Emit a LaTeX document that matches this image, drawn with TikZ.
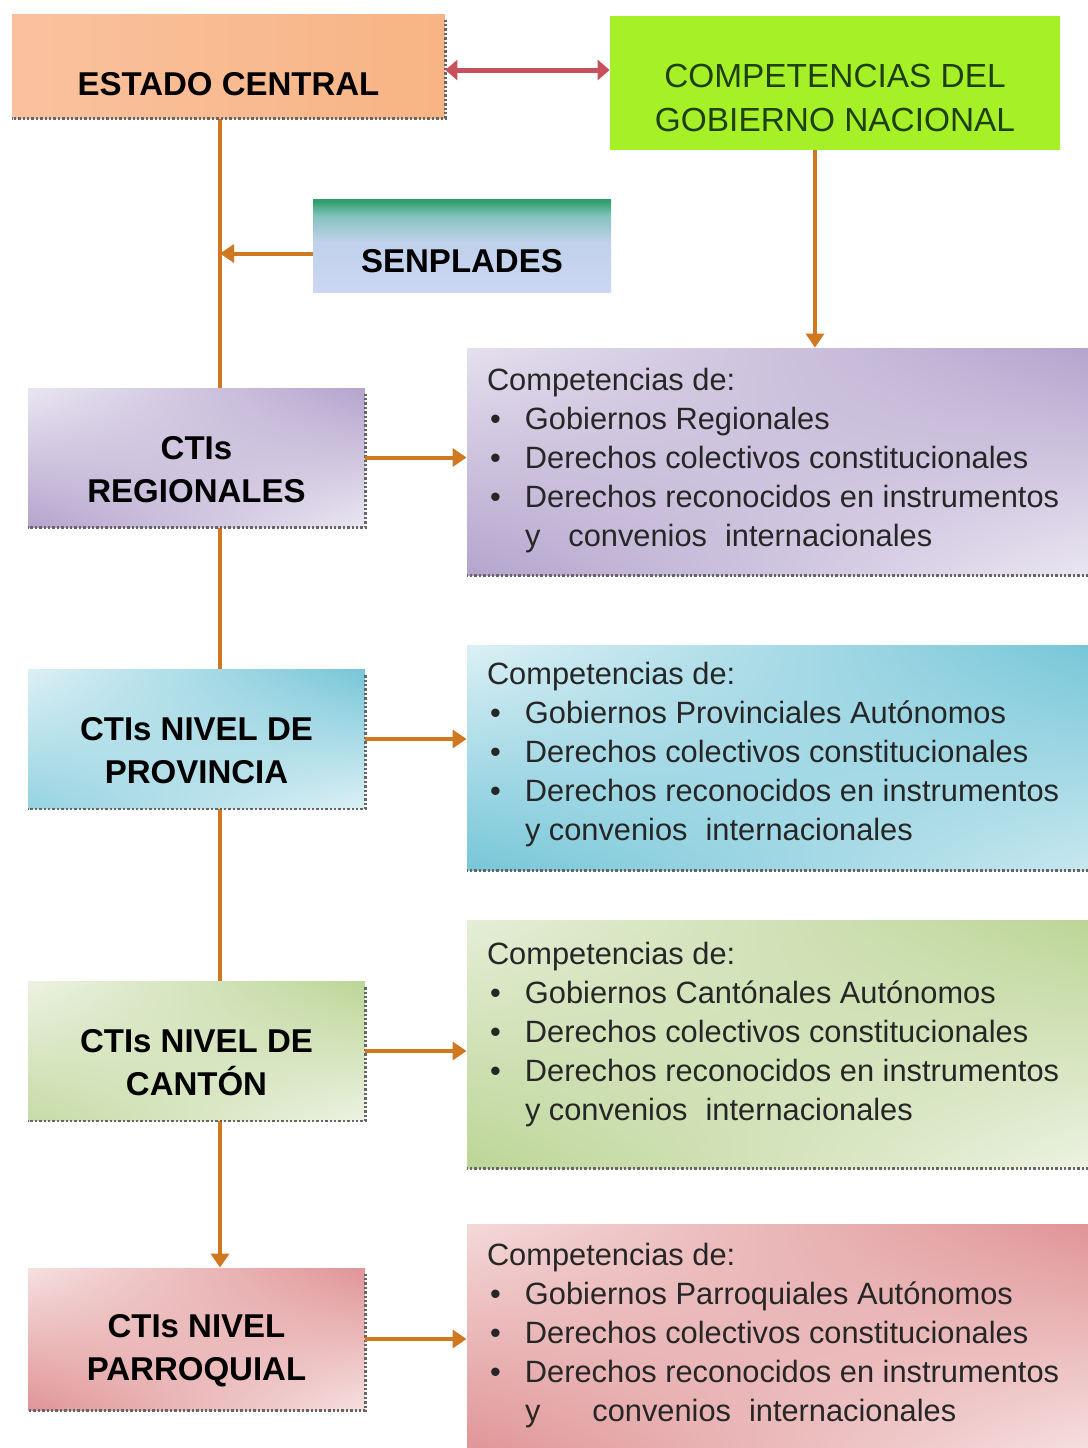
\documentclass[tikz,border=0pt]{standalone}
\usepackage{fontspec}
\setmainfont{Liberation Sans}
\usetikzlibrary{arrows.meta,shadings,backgrounds}

\pgfdeclareverticalshading{senpl}{100bp}{rgb(0bp)=(0.80,0.84,0.95); rgb(25bp)=(0.80,0.84,0.95); rgb(52bp)=(0.75,0.82,0.92); rgb(66bp)=(0.52,0.76,0.74); rgb(74bp)=(0.18,0.62,0.42); rgb(100bp)=(0.18,0.62,0.42)}

\newcommand{\bul}[1]{\\\hspace*{1.5pt}\makebox[17.5pt][l]{\textbullet}#1}

\begin{document}
\begin{tikzpicture}[x=0.5pt, y=-0.5pt,
  lbox/.style={minimum width=168.5pt, minimum height=69.5pt, inner sep=0pt, align=center, text height=45pt, font=\fontsize{16.5}{21.5}\selectfont\bfseries},
  rbox/.style={minimum width=310.5pt, inner sep=0pt},
  corners/.style n args={4}{upper left=#1, upper right=#2, lower left=#3, lower right=#4},
  listtext/.style={anchor=north west, inner sep=0pt, align=left, text=black!85, font=\fontsize{15.4}{19.5}\selectfont},
  flow/.style={-{Triangle[length=7pt,width=9pt]}, line width=2pt, draw=flowc},
  link/.style={{Triangle[length=6pt,width=10pt]}-{Triangle[length=6pt,width=10pt]}, line width=2.5pt, draw=linkc},
  shadowline/.style={densely dotted, line width=1.2pt, draw=black!60}]
  % Colors
  \definecolor{flowc}{RGB}{208,120,32}
  \definecolor{linkc}{RGB}{200,80,92}
  \definecolor{estA}{RGB}{249,194,158}
  \definecolor{estL}{RGB}{253,233,220}
  \definecolor{estB}{RGB}{248,180,132}
  \definecolor{compc}{RGB}{166,240,40}
  \definecolor{compt}{RGB}{30,64,16}
  \definecolor{purL}{RGB}{234,230,241}
  \definecolor{purD}{RGB}{180,164,205}
  \definecolor{cyaL}{RGB}{220,240,245}
  \definecolor{cyaD}{RGB}{118,198,216}
  \definecolor{greL}{RGB}{236,242,226}
  \definecolor{greD}{RGB}{188,213,150}
  \definecolor{pinL}{RGB}{246,224,224}
  \definecolor{pinD}{RGB}{224,148,150}

  \useasboundingbox (0,0) rectangle (1088,1448);

  % Top row
  \node[lbox, minimum width=216.5pt, minimum height=52pt, text height=30pt, left color=estA, middle color=estL, right color=estB] (estado) at (228.5,66) {ESTADO CENTRAL};
  \node[fill=compc, minimum width=225pt, minimum height=67pt, inner sep=0pt, align=center, text height=49pt, text=compt, font=\fontsize{16.7}{22}\selectfont] (comp) at (835,83) {COMPETENCIAS DEL\\GOBIERNO NACIONAL};
  \node[lbox, minimum width=149pt, minimum height=46.5pt, text height=27pt, shading=senpl] (senp) at (462,245.5) {SENPLADES};

  % Left column
  \node[lbox, corners={purL}{purD}{purD}{purL}] (reg) at (196.5,457.5) {CTIs\\REGIONALES};
  \node[lbox, corners={cyaL}{cyaD}{cyaD!70!cyaL}{cyaL}] (prov) at (196.5,739) {CTIs NIVEL DE\\PROVINCIA};
  \node[lbox, corners={greL}{greD}{greD!80!greL}{greL}] (cant) at (196.5,1051) {CTIs NIVEL DE\\CANTÓN};
  \node[lbox, minimum height=71pt, corners={pinL}{pinD}{pinD}{pinL}] (parr) at (196.5,1339) {CTIs NIVEL\\PARROQUIAL};

  % Right column
  \node[rbox, minimum height=113.5pt, corners={purL!90!purD}{purD}{purD}{purL}] (regR) at (777.5,461.5) {};
  \node[rbox, minimum height=112.5pt, corners={cyaL}{cyaD}{cyaD}{cyaL!80!cyaD}] (provR) at (777.5,757.5) {};
  \node[rbox, minimum height=124pt, corners={greL!85!greD}{greD}{greD}{greL}] (cantR) at (777.5,1044) {};
  \node[rbox, minimum height=114pt, corners={pinL!90!pinD}{pinD}{pinD}{pinL}] (parrR) at (777.5,1338) {};

  \node[listtext] (regT) at ([xshift=10pt,yshift=-10pt]regR.north west) {Competencias de:\bul{Gobiernos Regionales}\bul{Derechos colectivos constitucionales}\bul{Derechos reconocidos en instrumentos}\\\hspace*{19pt}y\hspace{14pt}convenios\hspace{9pt}internacionales};
  \node[listtext] (provT) at ([xshift=10pt,yshift=-8.5pt]provR.north west) {Competencias de:\bul{Gobiernos Provinciales Autónomos}\bul{Derechos colectivos constitucionales}\bul{Derechos reconocidos en instrumentos}\\\hspace*{19pt}y convenios\hspace{9pt}internacionales};
  \node[listtext] (cantT) at ([xshift=10pt,yshift=-11pt]cantR.north west) {Competencias de:\bul{Gobiernos Cantónales Autónomos}\bul{Derechos colectivos constitucionales}\bul{Derechos reconocidos en instrumentos}\\\hspace*{19pt}y convenios\hspace{9pt}internacionales};
  \node[listtext] (parrT) at ([xshift=10pt,yshift=-9.5pt]parrR.north west) {Competencias de:\bul{Gobiernos Parroquiales Autónomos}\bul{Derechos colectivos constitucionales}\bul{Derechos reconocidos en instrumentos}\\\hspace*{19pt}y\hspace{26pt}convenios\hspace{9pt}internacionales};

  % Shadows
  \foreach \n in {estado,reg,prov,cant,parr} {
    \draw[shadowline] ([yshift=-3pt]\n.north east) -- (\n.south east) -- (\n.south west);
  }
  \foreach \n in {regR,provR,cantR,parrR} {
    \draw[shadowline] (\n.south east) -- (\n.south west);
  }

  % Connectors
  \coordinate (trunk) at (220,0);
  \begin{scope}[on background layer]
    \draw[flow] (estado.south -| trunk) -- (parr.north -| trunk);
  \end{scope}
  \draw[link] ([yshift=-2pt]estado.east) -- ([yshift=-2pt]estado.east -| comp.west);
  \draw[flow] ([yshift=-4pt]senp.west) -- ([yshift=-4pt]senp.west -| trunk);
  \draw[flow] ([xshift=-10pt]comp.south) -- ([xshift=-10pt]comp.south |- regR.north);
  \draw[flow] (reg.east) -- (reg.east -| regR.west);
  \draw[flow] (prov.east) -- (prov.east -| provR.west);
  \draw[flow] (cant.east) -- (cant.east -| cantR.west);
  \draw[flow] (parr.east) -- (parr.east -| parrR.west);
\end{tikzpicture}
\end{document}
